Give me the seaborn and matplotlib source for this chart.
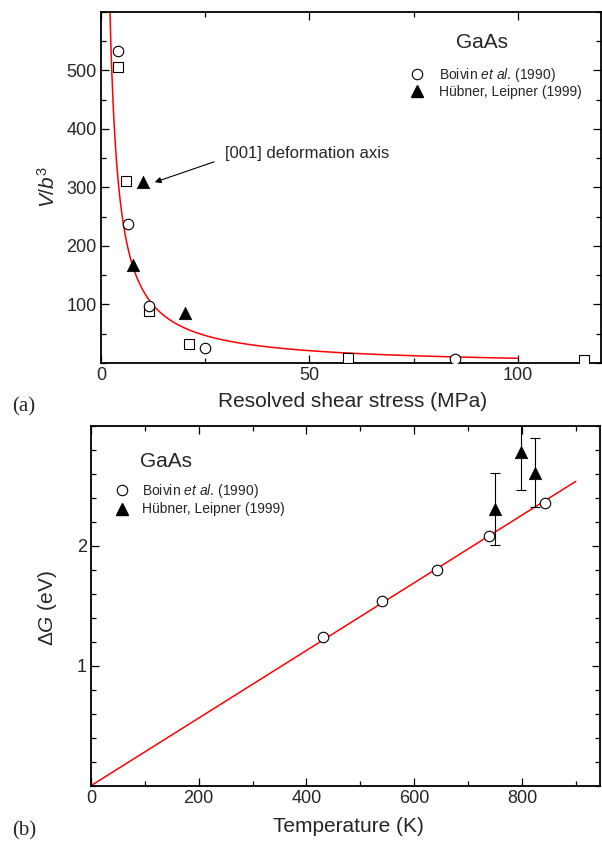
import numpy as np
import matplotlib
matplotlib.use("Agg")
import matplotlib.pyplot as plt
import seaborn as sns
from matplotlib.lines import Line2D
from matplotlib.ticker import MultipleLocator, FixedLocator

# ---- panel (a): activation volume vs resolved shear stress ----
boivin_tau = [4.1, 6.5, 11.6, 25.0, 85.0]
boivin_v = [533, 238, 98, 26, 6]
other_tau = [4.1, 6.1, 11.6, 21.0, 59.2, 116.0]
other_v = [506, 311, 89, 32, 9, 5]
huebner_tau = [10.1, 7.7, 20.1]
huebner_v = [309, 167, 86]
fit_const = 1300.0          # V/b^3 = fit_const / tau - fit_offset
fit_offset = 5.0
fit_tau_span = [2.15, 100.0]

# ---- panel (b): activation enthalpy vs temperature ----
boivin_T = [430, 540, 643, 739, 843]
boivin_G = [1.24, 1.54, 1.80, 2.08, 2.36]
huebner_T = [750, 799, 825]
huebner_G = [2.31, 2.78, 2.61]
huebner_err = [0.30, 0.31, 0.29]
fit_slope = 0.00282         # eV per K, line through the origin
fit_T_span = [0.0, 900.0]

label_boivin = r"Boivin $et\ al$. (1990)"
label_huebner = "Hübner, Leipner (1999)"

sns.set_theme(style="ticks")
plt.rcParams["font.family"] = ["Liberation Sans", "DejaVu Sans"]
plt.rcParams["mathtext.fontset"] = "custom"
plt.rcParams["mathtext.rm"] = "Liberation Sans"
plt.rcParams["mathtext.it"] = "Liberation Sans:italic"
plt.rcParams["axes.linewidth"] = 1.3
plt.rcParams["axes.edgecolor"] = "black"

fig = plt.figure(figsize=(6.02, 8.41), dpi=100)
ax1 = fig.add_axes([0.1678, 0.5684, 0.8306, 0.4174])
ax2 = fig.add_axes([0.1512, 0.0658, 0.8455, 0.4277])

open_kw = dict(color="white", edgecolor="black", linewidth=0.8, zorder=3)
tri_kw = dict(color="black", edgecolor="black", linewidth=0.5, zorder=4)

# fitted hyperbola
tau_fit = np.linspace(fit_tau_span[0], fit_tau_span[1], 500)
sns.lineplot(x=tau_fit, y=fit_const / tau_fit - fit_offset, ax=ax1,
             color="red", linewidth=1.1, estimator=None, sort=False, zorder=2)
sns.scatterplot(x=other_tau, y=other_v, ax=ax1, marker="s", s=42, **open_kw)
sns.scatterplot(x=boivin_tau, y=boivin_v, ax=ax1, marker="o", s=57, **open_kw)
sns.scatterplot(x=huebner_tau, y=huebner_v, ax=ax1, marker="^", s=80, **tri_kw)

ax1.annotate("[001] deformation axis", xy=(12.9, 309), xytext=(29.8, 358),
             ha="left", va="center", fontsize=12,
             arrowprops=dict(arrowstyle="-|>", color="black", lw=0.8,
                             mutation_scale=9, relpos=(0, 0.2),
                             shrinkA=6, shrinkB=0))

ax1.set_xlim(0, 120)
ax1.set_ylim(0, 600)
ax1.xaxis.set_major_locator(FixedLocator([0, 50, 100]))
ax1.xaxis.set_minor_locator(MultipleLocator(25))
ax1.yaxis.set_major_locator(FixedLocator([100, 200, 300, 400, 500]))
ax1.yaxis.set_minor_locator(MultipleLocator(50))
ax1.set_xlabel("Resolved shear stress (MPa)", fontsize=15)
ax1.set_ylabel(r"$V$/$b^3$", fontsize=15)

# ---- panel (b) ----
T_fit = np.linspace(fit_T_span[0], fit_T_span[1], 50)
sns.lineplot(x=T_fit, y=fit_slope * T_fit, ax=ax2, color="red",
             linewidth=1.1, estimator=None, sort=False, zorder=2)
ax2.errorbar(huebner_T, huebner_G, yerr=huebner_err, fmt="none",
             ecolor="black", elinewidth=0.8, capsize=3.8, capthick=0.8,
             zorder=3)
sns.scatterplot(x=boivin_T, y=boivin_G, ax=ax2, marker="o", s=57, **open_kw)
sns.scatterplot(x=huebner_T, y=huebner_G, ax=ax2, marker="^", s=80, **tri_kw)

ax2.set_xlim(0, 945)
ax2.set_ylim(0, 3)
ax2.xaxis.set_major_locator(FixedLocator([0, 200, 400, 600, 800]))
ax2.xaxis.set_minor_locator(MultipleLocator(100))
ax2.yaxis.set_major_locator(FixedLocator([1, 2]))
ax2.yaxis.set_minor_locator(MultipleLocator(0.2))
ax2.set_xlabel("Temperature (K)", fontsize=15)
ax2.set_ylabel(r"Δ$G$ (eV)", fontsize=15)

for ax in (ax1, ax2):
    ax.tick_params(which="both", direction="in", top=True, right=True,
                   width=0.9, color="black", labelsize=13, pad=3)
    ax.tick_params(which="major", length=6)
    ax.tick_params(which="minor", length=3.5)
    for sp in ax.spines.values():
        sp.set_color("black")
        sp.set_linewidth(1.3)

ax1.xaxis.set_label_coords(0.504, -0.084)
ax1.yaxis.set_label_coords(-0.085, 0.502)
ax2.xaxis.set_label_coords(0.505, -0.088)
ax2.yaxis.set_label_coords(-0.062, 0.494)

# legends
def make_handles():
    return [Line2D([], [], linestyle="none", marker="o", markersize=7.5,
                   markerfacecolor="white", markeredgecolor="black",
                   markeredgewidth=0.8),
            Line2D([], [], linestyle="none", marker="^", markersize=9,
                   markerfacecolor="black", markeredgecolor="black")]

ax1.legend(make_handles(), [label_boivin, label_huebner], loc="center left",
           bbox_to_anchor=(0.618, 0.7994), frameon=False, fontsize=10,
           borderpad=0, borderaxespad=0, handlelength=1.0,
           handletextpad=1.08, labelspacing=0.1)
ax1.text(0.761, 0.912, "GaAs", transform=ax1.transAxes, ha="center",
         va="center", fontsize=15)

ax2.legend(make_handles(), [label_boivin, label_huebner], loc="center left",
           bbox_to_anchor=(0.0467, 0.797), frameon=False, fontsize=10,
           borderpad=0, borderaxespad=0, handlelength=1.0,
           handletextpad=0.96, labelspacing=0.2)
ax2.text(0.0963, 0.901, "GaAs", transform=ax2.transAxes, ha="left",
         va="center", fontsize=15)

serif = ["Liberation Serif", "DejaVu Serif"]
fig.text(24 / 602, 1 - 407 / 841, "(a)", family=serif, fontsize=15,
         ha="center", va="center")
fig.text(24 / 602, 1 - 831 / 841, "(b)", family=serif, fontsize=15,
         ha="center", va="center")

fig.savefig("out.png", dpi=100)
